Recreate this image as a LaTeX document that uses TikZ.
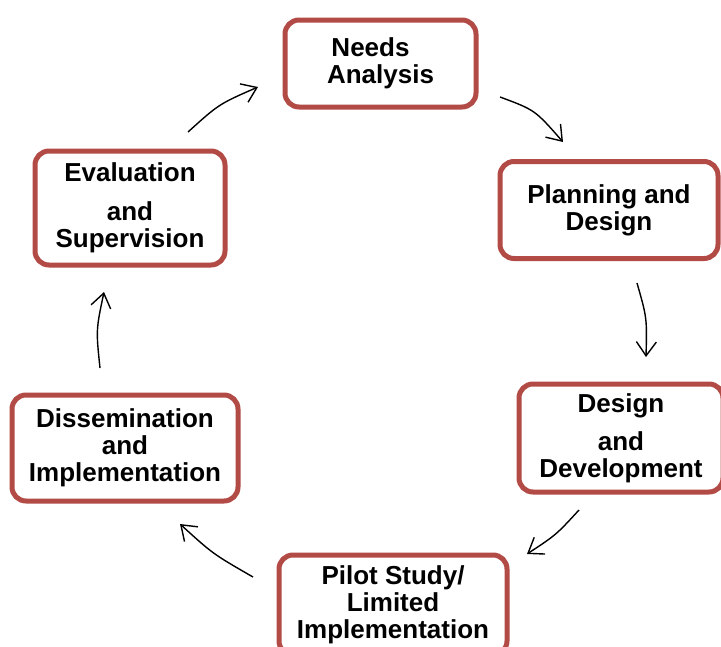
\documentclass[tikz,border=0pt]{standalone}
\usepackage{fontspec}
\setmainfont{Liberation Sans}
\usetikzlibrary{arrows.meta}
\definecolor{boxred}{RGB}{178,74,70}
\begin{document}
\begin{tikzpicture}[x=1pt,y=-1pt,
  box/.style={draw=boxred, line width=5pt, rounded corners=14pt, fill=white,
    align=center, inner sep=0pt, font=\bfseries\fontsize{26}{27}\selectfont},
  arr/.style={line width=1.4pt, -{Straight Barb[length=14pt,width=20pt,line width=1.4pt]}}]
\useasboundingbox (0,0) rectangle (721,646);

\node[box, minimum width=191pt, minimum height=87pt] (needs) at (380.5,63.5)
  {\mbox{Needs\hspace{20pt}}\\Analysis};
\node[box, minimum width=218pt, minimum height=97pt] (plan) at (609,210)
  {Planning and\\Design};
\node[box, minimum width=204pt, minimum height=108pt] (dev) at (621,438)
  {Design\\[11pt]and\\Development};
\node[box, minimum width=228pt, minimum height=100pt] (pilot) at (393,605)
  {Pilot Study/\\Limited\\Implementation};
\node[box, minimum width=226pt, minimum height=106pt] (diss) at (125,448)
  {Dissemination\\and\\Implementation};
\node[box, minimum width=190pt, minimum height=114pt] (eval) at (130,208)
  {Evaluation\\[12pt]and\\Supervision};

\coordinate (a1s) at (500,97);  \coordinate (a1e) at (563,142);
\coordinate (a2s) at (637,283); \coordinate (a2e) at (646,357);
\coordinate (a3s) at (579,510); \coordinate (a3e) at (527,554);
\coordinate (a4s) at (253,577); \coordinate (a4e) at (180,524);
\coordinate (a5s) at (100,368); \coordinate (a5e) at (104,292);
\coordinate (a6s) at (188,132); \coordinate (a6e) at (258,87);

\draw[arr] (a1s) .. controls (535,110) .. (a1e);
\draw[arr] (a2s) .. controls (647,318) .. (a2e);
\draw[arr] (a3s) .. controls (556,535) .. (a3e);
\draw[arr] (a4s) .. controls (213,554) .. (a4e);
\draw[arr] (a5s) .. controls (96,330) .. (a5e);
\draw[arr] (a6s) .. controls (219,104) .. (a6e);
\end{tikzpicture}
\end{document}
